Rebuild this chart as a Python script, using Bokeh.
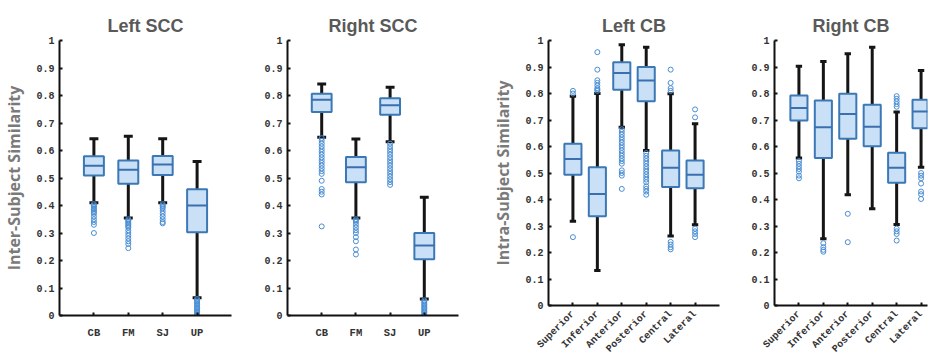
import math
from bokeh.plotting import figure
from bokeh.layouts import row
from bokeh.models import Range1d, FixedTicker
from bokeh.embed import file_html
from bokeh.resources import INLINE

# ---------------- data ----------------
scc_cats = ["CB", "FM", "SJ", "UP"]
cb_cats = ["Superior", "Inferior", "Anterior", "Posterior", "Central", "Lateral"]

# Left SCC
lscc_lo = [0.41, 0.355, 0.41, 0.065]
lscc_q1 = [0.509, 0.479, 0.511, 0.303]
lscc_med = [0.545, 0.530, 0.549, 0.400]
lscc_q3 = [0.579, 0.564, 0.580, 0.459]
lscc_hi = [0.643, 0.652, 0.643, 0.560]
lscc_out = [
    [0.405, 0.40, 0.395, 0.39, 0.385, 0.38, 0.375, 0.37, 0.36, 0.35, 0.34, 0.33, 0.30],
    [0.35, 0.345, 0.34, 0.335, 0.33, 0.325, 0.32, 0.31, 0.30, 0.29, 0.28, 0.27, 0.26, 0.245],
    [0.405, 0.40, 0.395, 0.39, 0.38, 0.37, 0.36, 0.35, 0.34, 0.335],
    [0.06, 0.055, 0.05, 0.045, 0.04, 0.035, 0.03, 0.025, 0.02, 0.015, 0.01, 0.005, 0.0],
]

# Right SCC
rscc_lo = [0.648, 0.355, 0.632, 0.060]
rscc_q1 = [0.740, 0.485, 0.730, 0.205]
rscc_med = [0.785, 0.539, 0.765, 0.255]
rscc_q3 = [0.806, 0.576, 0.790, 0.300]
rscc_hi = [0.842, 0.642, 0.830, 0.430]
rscc_out = [
    [0.645, 0.635, 0.625, 0.615, 0.605, 0.595, 0.585, 0.575, 0.565, 0.555, 0.545, 0.535, 0.525,
     0.515, 0.49, 0.46, 0.45, 0.44, 0.324],
    [0.35, 0.345, 0.34, 0.33, 0.32, 0.31, 0.30, 0.285, 0.27, 0.24, 0.222],
    [0.625, 0.615, 0.605, 0.595, 0.585, 0.575, 0.565, 0.555, 0.545, 0.535, 0.525, 0.515,
     0.505, 0.495, 0.485, 0.475],
    [0.055, 0.05, 0.045, 0.04, 0.035, 0.03, 0.025, 0.02, 0.015, 0.01, 0.005, 0.0],
]

# Left CB
lcb_lo = [0.318, 0.132, 0.673, 0.585, 0.262, 0.305]
lcb_q1 = [0.493, 0.337, 0.814, 0.771, 0.447, 0.442]
lcb_med = [0.553, 0.421, 0.877, 0.849, 0.520, 0.493]
lcb_q3 = [0.610, 0.522, 0.918, 0.900, 0.585, 0.547]
lcb_hi = [0.790, 0.800, 0.984, 0.975, 0.799, 0.686]
lcb_out = [
    [0.80, 0.81, 0.258],
    [0.81, 0.815, 0.82, 0.83, 0.84, 0.85, 0.89, 0.956],
    [0.665, 0.655, 0.645, 0.635, 0.625, 0.615, 0.605, 0.595, 0.585, 0.575, 0.565, 0.555,
     0.545, 0.535, 0.51, 0.50, 0.49, 0.44],
    [0.575, 0.565, 0.555, 0.545, 0.535, 0.525, 0.515, 0.505, 0.495, 0.485, 0.475, 0.465,
     0.45, 0.44, 0.43, 0.418],
    [0.81, 0.82, 0.84, 0.89, 0.24, 0.23, 0.22, 0.212],
    [0.71, 0.74, 0.29, 0.28, 0.27, 0.258],
]

# Right CB
rcb_lo = [0.557, 0.252, 0.418, 0.365, 0.306, 0.522]
rcb_q1 = [0.698, 0.557, 0.629, 0.601, 0.463, 0.669]
rcb_med = [0.745, 0.673, 0.723, 0.675, 0.520, 0.732]
rcb_q3 = [0.792, 0.774, 0.799, 0.758, 0.576, 0.776]
rcb_hi = [0.903, 0.921, 0.950, 0.975, 0.730, 0.887]
rcb_out = [
    [0.545, 0.535, 0.525, 0.515, 0.505, 0.49, 0.48],
    [0.235, 0.22, 0.21, 0.203],
    [0.346, 0.239],
    [],
    [0.75, 0.76, 0.77, 0.78, 0.79, 0.29, 0.28, 0.27, 0.245],
    [0.50, 0.49, 0.48, 0.46, 0.43, 0.42, 0.402],
]

y_ticks = [0, 0.1, 0.2, 0.3, 0.4, 0.5, 0.6, 0.7, 0.8, 0.9, 1]
y_tick_labels = ["0", "0.1", "0.2", "0.3", "0.4", "0.5", "0.6", "0.7", "0.8", "0.9", "1"]

# ---------------- style ----------------
BOX_FILL = "#c9e0f6"
BOX_LINE = "#3b78b5"
MED_LINE = "#3b6fb0"
OUT_LINE = "#4a8ed4"
WHISK = "#151515"
MONO = "Liberation Mono"
SANS = "Open Sans"
TITLE_FONT = "Liberation Sans"


def panel(title, cats, lo, q1, med, q3, hi, outs, frame_w, frame_h, xmax,
          b_left, b_right, b_bottom, ylabel=None, rotate=False, box_w=0.58,
          cap_w=0.26, title_offset=0):
    p = figure(frame_width=frame_w, frame_height=frame_h,
               x_range=Range1d(0, xmax), y_range=Range1d(0, 1),
               min_border_left=b_left, min_border_right=b_right,
               min_border_top=40, min_border_bottom=b_bottom,
               output_backend="svg", toolbar_location=None, title=title)
    p.title.align = "center"
    p.title.text_font = TITLE_FONT
    p.title.text_font_size = "18px"
    p.title.text_font_style = "bold"
    p.title.text_color = "#595959"
    p.title.offset = title_offset
    p.outline_line_color = None
    p.xgrid.visible = False
    p.ygrid.visible = False

    xs = list(range(1, len(cats) + 1))
    # whiskers
    p.segment(xs, lo, xs, q1, line_color=WHISK, line_width=3)
    p.segment(xs, q3, xs, hi, line_color=WHISK, line_width=3)
    lx0 = [x - cap_w / 2 for x in xs]
    lx1 = [x + cap_w / 2 for x in xs]
    p.segment(lx0, hi, lx1, hi, line_color=WHISK, line_width=3)
    p.segment(lx0, lo, lx1, lo, line_color=WHISK, line_width=3)
    # boxes
    p.vbar(x=xs, width=box_w, bottom=q1, top=q3, fill_color=BOX_FILL,
           line_color=BOX_LINE, line_width=2)
    bx0 = [x - box_w / 2 for x in xs]
    bx1 = [x + box_w / 2 for x in xs]
    p.segment(bx0, med, bx1, med, line_color=MED_LINE, line_width=2)
    # outliers
    ox, oy = [], []
    for x, vals in zip(xs, outs):
        for v in vals:
            ox.append(x)
            oy.append(v)
    p.scatter(ox, oy, marker="circle", size=5, fill_color=None,
              line_color=OUT_LINE, line_width=1)

    # axes
    for ax in (p.xaxis, p.yaxis):
        ax.axis_line_width = 2
        ax.axis_line_color = "#111111"
        ax.major_tick_line_color = "#111111"
        ax.major_tick_line_width = 2
        ax.major_tick_in = 3
        ax.major_tick_out = 0
        ax.minor_tick_line_color = None
        ax.major_label_text_font = MONO
        ax.major_label_text_font_style = "bold"
        ax.major_label_text_color = "#333333"
        ax.major_label_text_font_size = "10px"
    p.xaxis.ticker = FixedTicker(ticks=xs)
    p.xaxis.major_label_overrides = {x: c for x, c in zip(xs, cats)}
    if rotate:
        p.xaxis.major_label_orientation = math.pi / 4
        p.xaxis.major_label_standoff = 7
    else:
        p.xaxis.major_label_text_font_size = "10.5px"
        p.xaxis.major_label_standoff = 11
    p.yaxis.ticker = FixedTicker(ticks=y_ticks)
    p.yaxis.major_label_overrides = {t: s for t, s in zip(y_ticks, y_tick_labels)}
    p.yaxis.major_label_standoff = 5
    if ylabel:
        p.yaxis.axis_label = ylabel
        p.yaxis.axis_label_text_font = SANS
        p.yaxis.axis_label_text_font_size = "16px"
        p.yaxis.axis_label_text_font_style = "bold"
        p.yaxis.axis_label_text_color = "#7a7a7a"
        p.yaxis.axis_label_standoff = 8
    return p


p1 = panel("Left SCC", scc_cats, lscc_lo, lscc_q1, lscc_med, lscc_q3, lscc_hi, lscc_out,
           172, 275, 5, 55, 4, 27, ylabel="Inter-Subject Similarity")
p2 = panel("Right SCC", scc_cats, rscc_lo, rscc_q1, rscc_med, rscc_q3, rscc_hi, rscc_out,
           171, 275, 5, 52, 4, 27)
p3 = panel("Left CB", cb_cats, lcb_lo, lcb_q1, lcb_med, lcb_q3, lcb_hi, lcb_out,
           171, 265, 7, 86, 3, 37, ylabel="Intra-Subject Similarity", rotate=True,
           box_w=0.7, cap_w=0.26)
p4 = panel("Right CB", cb_cats, rcb_lo, rcb_q1, rcb_med, rcb_q3, rcb_hi, rcb_out,
           153, 265, 153 / (171 / 7), 52, 2, 37, rotate=True, box_w=0.7, cap_w=0.26,
           title_offset=9)

layout = row(p1, p2, p3, p4)
open("out.html", "w").write(file_html(layout, INLINE))
